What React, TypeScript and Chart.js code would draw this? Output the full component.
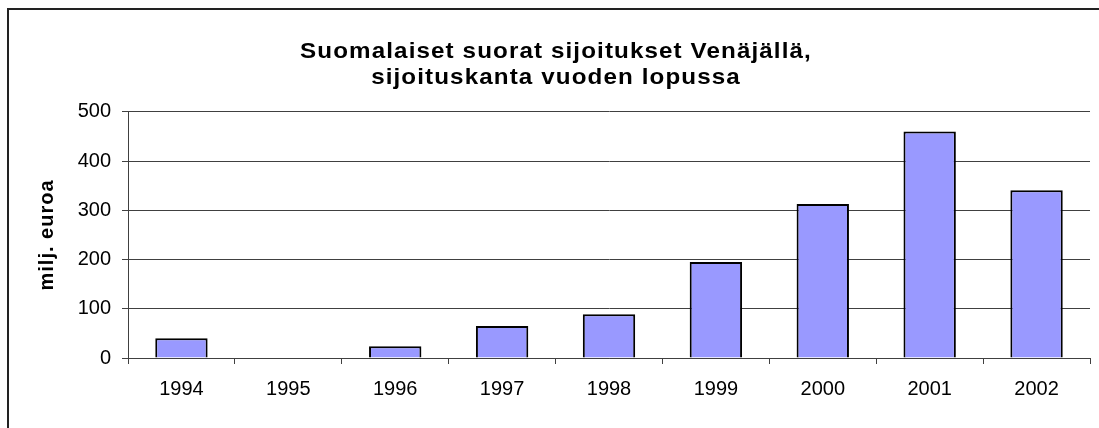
import React, { useEffect, useRef } from "react";
import { Chart, registerables } from "chart.js";

Chart.register(...registerables);

const categories = ["1994", "1995", "1996", "1997", "1998", "1999", "2000", "2001", "2002"];
const values = [40, 0, 24, 65, 89, 195, 313, 460, 341];
const titleLines = ["Suomalaiset suorat sijoitukset Venäjällä,", "sijoituskanta vuoden lopussa"];
const yAxisTitle = "milj. euroa";

const FONT = "'Liberation Sans', Arial, sans-serif";

const framePlugin = {
  id: "frame",
  beforeDraw(chart: any) {
    const ctx = chart.ctx;
    ctx.save();
    ctx.fillStyle = "#ffffff";
    ctx.fillRect(0, 0, chart.width, chart.height);
    ctx.strokeStyle = "#222222";
    ctx.lineWidth = 2;
    ctx.beginPath();
    ctx.moveTo(8, chart.height + 5);
    ctx.lineTo(8, 9);
    ctx.lineTo(chart.width + 5, 9);
    ctx.stroke();
    ctx.restore();

    // slightly widened title lettering, like the original
    const tb = chart.titleBlock;
    if (tb && !tb.__spaced) {
      const orig = tb.draw.bind(tb);
      tb.draw = (...args: any[]) => {
        const c = chart.ctx;
        const cx = (tb.left + tb.right) / 2;
        c.save();
        c.translate(cx, 0);
        c.scale(1.1, 1);
        c.translate(-cx, 0);
        c.letterSpacing = "1px";
        orig(...args);
        c.restore();
      };
      tb.__spaced = true;
    }
    const ys = chart.scales.y;
    if (ys && !ys.__spaced) {
      const origT = ys.drawTitle.bind(ys);
      ys.drawTitle = (...args: any[]) => {
        const c = chart.ctx;
        c.save();
        c.letterSpacing = "1px";
        origT(...args);
        c.restore();
      };
      ys.__spaced = true;
    }
  },
};

export default function App() {
  const ref = useRef<HTMLCanvasElement | null>(null);
  useEffect(() => {
    if (!ref.current) return;
    const chart = new Chart(ref.current, {
      type: "bar",
      data: {
        labels: categories,
        datasets: [
          {
            data: values,
            backgroundColor: "#9999FF",
            borderColor: "#000000",
            borderWidth: 2,
            barPercentage: 0.49,
            categoryPercentage: 1,
          },
        ],
      },
      options: {
        animation: false,
        responsive: true,
        maintainAspectRatio: false,
        layout: { padding: { left: 22, right: 9, top: 0, bottom: 0 } },
        plugins: {
          legend: { display: false },
          tooltip: { enabled: false },
          title: {
            display: true,
            text: titleLines,
            color: "#000000",
            font: { family: FONT, size: 22, weight: "bold", lineHeight: 1.18 },
            padding: { top: 39, bottom: 21 },
          },
        },
        scales: {
          x: {
            grid: { display: true, drawOnChartArea: false, drawTicks: true, tickLength: 6, color: "#404040", offset: true },
            border: { display: true, color: "#404040", width: 1 },
            ticks: { color: "#000000", font: { family: FONT, size: 20 }, padding: 13, maxRotation: 0 },
            afterFit(scale: any) {
              scale.height = 70;
            },
          },
          y: {
            min: 0,
            max: 500,
            ticks: { stepSize: 100, color: "#000000", font: { family: FONT, size: 20 }, padding: 11 },
            grid: { color: "#404040", lineWidth: 1, tickLength: 6, drawTicks: true },
            border: { display: true, color: "#404040", width: 1 },
            title: {
              display: true,
              text: yAxisTitle,
              color: "#000000",
              font: { family: FONT, size: 20, weight: "bold", lineHeight: 1.2 },
              padding: { top: 13, bottom: 0 },
            },
            afterFit(scale: any) {
              scale.width = 106;
            },
          },
        },
      },
      plugins: [framePlugin],
    });
    return () => chart.destroy();
  }, []);
  return (
    <div style={{ position: "absolute", left: 0, top: 0, width: 1099, height: 428 }}>
      <canvas ref={ref} />
    </div>
  );
}
